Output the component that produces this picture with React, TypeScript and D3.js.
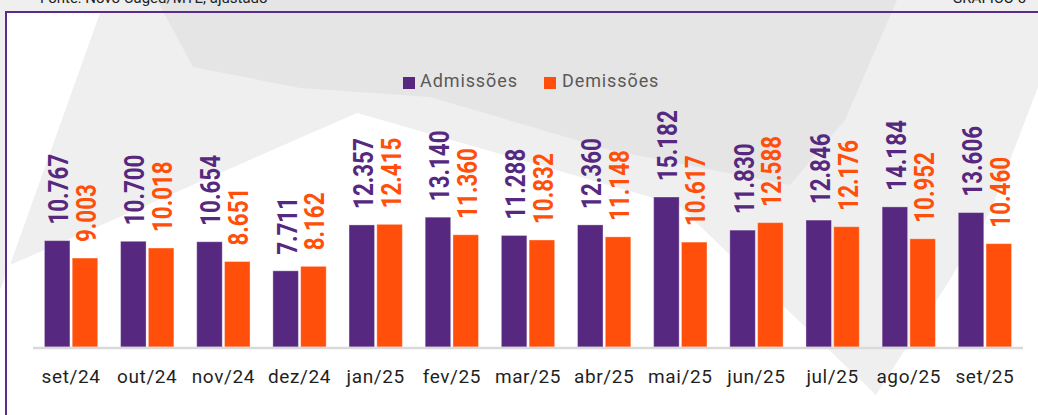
import React from "react";
import * as d3 from "d3";

const categories = ["set/24", "out/24", "nov/24", "dez/24", "jan/25", "fev/25", "mar/25", "abr/25", "mai/25", "jun/25", "jul/25", "ago/25", "set/25"];
const admissoes = [10767, 10700, 10654, 7711, 12357, 13140, 11288, 12360, 15182, 11830, 12846, 14184, 13606];
const demissoes = [9003, 10018, 8651, 8162, 12415, 11360, 10832, 11148, 10617, 12588, 12176, 10952, 10460];
const seriesNames = ["Admissões", "Demissões"];
const seriesColors = ["#56287f", "#ff4f0a"];

const W = 1038;
const H = 415;

const fmt = (v: number) => d3.format(",")(v).replace(/,/g, ".");

export default function App() {
  const x0 = d3.scaleBand<string>().domain(categories).range([33, 1023]).paddingInner(0.3).paddingOuter(0.15);
  const x1 = d3.scaleBand<string>().domain(seriesNames).range([0, x0.bandwidth()]).paddingInner(0.082);
  const y = d3.scaleLinear().domain([0, 20000]).range([347, 347 - 197.6]);
  const series = [admissoes, demissoes];

  const bg1 = "#efefef";
  const bg2 = "#e5e5e5";
  const line = d3.line();

  const P1: [number, number][] = [[100, 0], [1038, 0], [1038, 87], [991, 210], [951, 278], [876, 395], [678, 205], [357, 113], [10, 265], [0, 290], [0, 0]];
  const P2: [number, number][] = [[157, 0], [897, 0], [845, 120], [790, 185], [610, 150], [430, 97], [300, 88], [193, 67]];

  return (
    <svg width={W} height={H} style={{ position: "absolute", left: 0, top: 0, display: "block" }} xmlns="http://www.w3.org/2000/svg">
      <rect x={0} y={0} width={W} height={H} fill="#ffffff" />
      <path d={line(P1) + "Z"} fill={bg1} />
      <path d={line(P2) + "Z"} fill={bg2} />
      <rect x={6} y={12} width={94} height={0} fill="#fff" />
      <path d={line([[7, 13], [100, 13], [10, 265], [7, 273]]) + "Z"} fill="#ffffff" />

      {/* cut-off header texts */}
      <text x={40} y={3} fontFamily="Roboto, sans-serif" fontSize={15} fill="#222">Fonte: Novo Caged/MTE, ajustado</text>
      <text x={1026} y={3} textAnchor="end" fontFamily="Roboto, sans-serif" fontSize={15} fill="#222">GRÁFICO 5</text>

      {/* frame */}
      <line x1={5} x2={W} y1={12} y2={12} stroke="#5a2d8c" strokeWidth={2} />
      <line x1={6} x2={6} y1={11} y2={H} stroke="#5a2d8c" strokeWidth={2} />

      {/* legend */}
      <g fontFamily="Roboto, sans-serif" fontSize={18} fill="#595959" letterSpacing={0.9}>
        <rect x={403} y={77} width={12} height={12} fill={seriesColors[0]} />
        <text x={420} y={87.3}>{seriesNames[0]}</text>
        <rect x={544} y={77} width={12} height={12} fill={seriesColors[1]} />
        <text x={562} y={87.3}>{seriesNames[1]}</text>
      </g>

      {/* bars */}
      {categories.map((c, i) => (
        <g key={c} transform={`translate(${x0(c)},0)`}>
          {series.map((s, j) => {
            const bx = x1(seriesNames[j])!;
            const top = y(s[i]);
            const cx = bx + x1.bandwidth() / 2;
            return (
              <g key={j}>
                <rect x={bx} y={top} width={x1.bandwidth()} height={y(0) - top} fill={seriesColors[j]} stroke="#ffffff" strokeOpacity={0.35} strokeWidth={1} />
                <text
                  transform={`translate(${cx + 11},${top - 16}) rotate(-90) scale(0.8,1)`}
                  fontFamily="Roboto, sans-serif"
                  fontWeight={700}
                  fontSize={28}
                  fill={seriesColors[j]}
                >
                  {fmt(s[i])}
                </text>
              </g>
            );
          })}
        </g>
      ))}

      {/* baseline */}
      <line x1={33} x2={1023} y1={y(0) + 1} y2={y(0) + 1} stroke="#d9d9d9" strokeWidth={2.3} />

      {/* x-axis labels */}
      <g fontFamily="Roboto, sans-serif" fontSize={19} fill="#1f1f1f" letterSpacing={0.6} textAnchor="middle">
        {categories.map((c) => (
          <text key={c} x={x0(c)! + x0.bandwidth() / 2} y={383}>{c}</text>
        ))}
      </g>
    </svg>
  );
}
